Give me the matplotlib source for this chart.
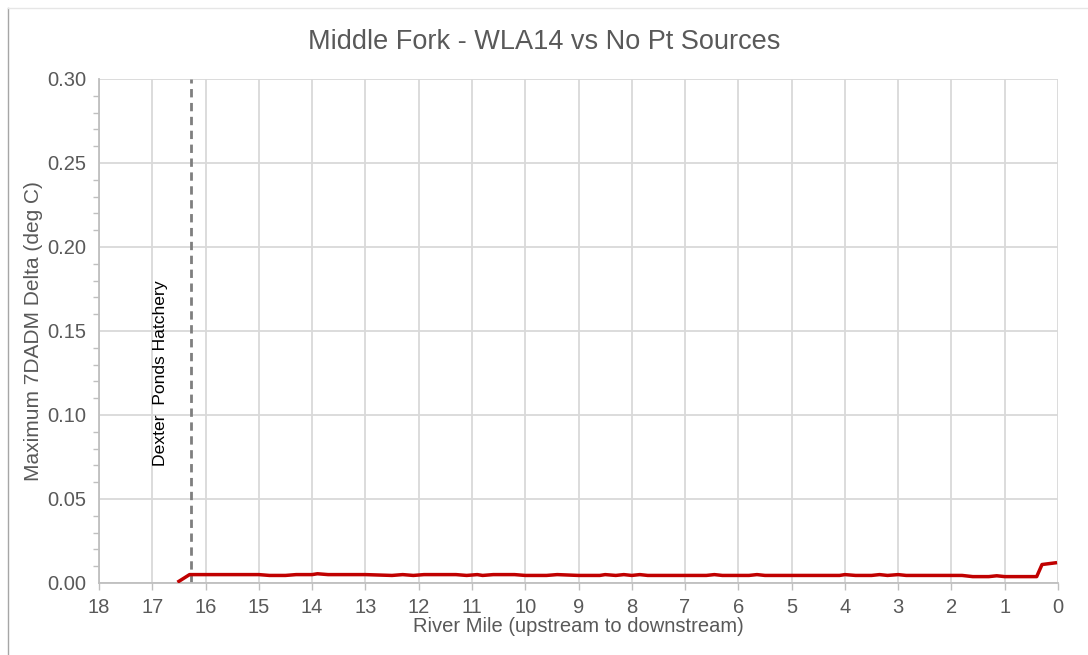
import matplotlib.pyplot as plt
from matplotlib.ticker import MultipleLocator

plt.rcParams['font.family'] = ['Liberation Sans', 'DejaVu Sans']

# River mile vs max 7DADM delta (deg C)
river_mile = [16.5, 16.3, 15.0, 14.8, 14.5, 14.3, 14.0, 13.9, 13.7, 13.0,
              12.5, 12.3, 12.1, 11.9, 11.3, 11.1, 10.9, 10.8, 10.6, 10.2,
              10.0, 9.6, 9.4, 9.0, 8.6, 8.5, 8.3, 8.15, 8.0, 7.85,
              7.7, 6.6, 6.45, 6.3, 5.8, 5.65, 5.5, 4.1, 4.0, 3.8,
              3.5, 3.35, 3.2, 3.0, 2.85, 1.8, 1.6, 1.3, 1.15, 1.0,
              0.4, 0.3, 0.05]
delta_t = [0.001, 0.005, 0.005, 0.0045, 0.0045, 0.005, 0.005, 0.0055, 0.005, 0.005,
           0.0045, 0.005, 0.0045, 0.005, 0.005, 0.0045, 0.005, 0.0045, 0.005, 0.005,
           0.0045, 0.0045, 0.005, 0.0045, 0.0045, 0.005, 0.0045, 0.005, 0.0045, 0.005,
           0.0045, 0.0045, 0.005, 0.0045, 0.0045, 0.005, 0.0045, 0.0045, 0.005, 0.0045,
           0.0045, 0.005, 0.0045, 0.005, 0.0045, 0.0045, 0.0038, 0.0038, 0.0043, 0.0038,
           0.0038, 0.011, 0.012]

hatchery_mile = 16.27
hatchery_label = "Dexter  Ponds Hatchery"

grey = "#595959"
grid = "#d9d9d9"

fig = plt.figure(figsize=(10.88, 6.55), dpi=100)
ax = fig.add_axes([99 / 1088, 1 - 583 / 655, 959 / 1088, 504 / 655])

ax.plot(river_mile, delta_t, color="#c00000", lw=2.5, zorder=3)
ax.axvline(hatchery_mile, color="#7f7f7f", lw=2, ls=(0, (3, 2)), zorder=2)
ax.text(16.85, 0.0695, hatchery_label, rotation=90,
        ha="center", va="bottom", fontsize=12.6, color="black")

ax.set_xlim(18, 0)
ax.set_ylim(0, 0.30)
ax.xaxis.set_major_locator(MultipleLocator(1))
ax.yaxis.set_major_locator(MultipleLocator(0.05))
ax.yaxis.set_minor_locator(MultipleLocator(0.01))
ax.yaxis.set_major_formatter(plt.FormatStrFormatter("%.2f"))

ax.grid(True, which="major", color=grid, lw=1.3)
ax.set_axisbelow(True)
for s in ["top", "right"]:
    ax.spines[s].set_visible(False)
for s in ["left", "bottom"]:
    ax.spines[s].set_color("#bfbfbf")
    ax.spines[s].set_linewidth(1.3)

ax.tick_params(axis="both", colors="#bfbfbf", labelcolor=grey, labelsize=14.5, length=5, width=1)
ax.tick_params(axis="y", which="minor", colors="#bfbfbf", length=4, width=1)
ax.tick_params(axis="y", which="major", length=0, pad=9)
ax.tick_params(axis="x", pad=6)

ax.set_xlabel("River Mile (upstream to downstream)", fontsize=14.5, color=grey, labelpad=0)
ax.set_ylabel("Maximum 7DADM Delta (deg C)", fontsize=15, color=grey, labelpad=3)
fig.suptitle("Middle Fork - WLA14 vs No Pt Sources", y=0.955, fontsize=19.5, color=grey)

# chart area border (left and top visible)
fig.add_artist(plt.Line2D([8 / 1088, 8 / 1088], [0, 1 - 8 / 655], transform=fig.transFigure,
                          color="#a6a6a6", lw=1))
fig.add_artist(plt.Line2D([8 / 1088, 1], [1 - 8 / 655, 1 - 8 / 655], transform=fig.transFigure,
                          color="#e6e6e6", lw=1))

fig.savefig("out.png", dpi=100, facecolor="white")
